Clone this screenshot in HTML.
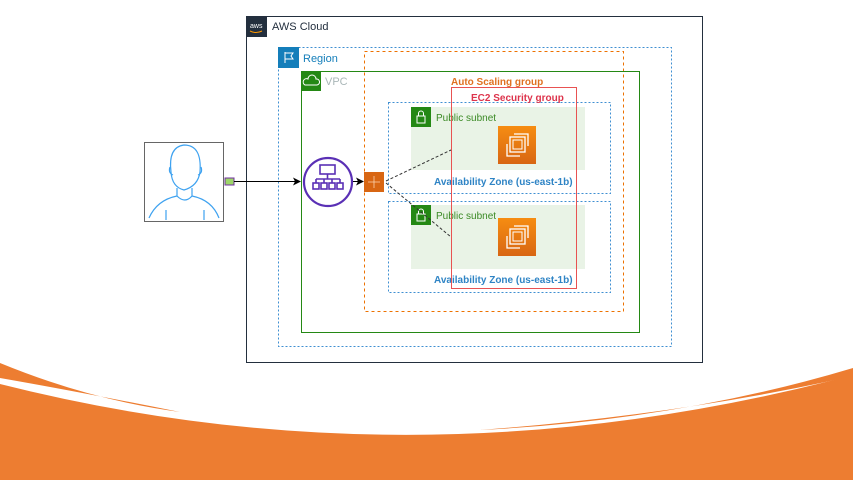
<!DOCTYPE html>
<html><head><meta charset="utf-8"><style>
html,body{margin:0;padding:0;background:#fff;}
svg{display:block;}
text{font-family:"Liberation Sans",sans-serif;}
</style></head><body>
<svg width="853" height="480" viewBox="0 0 853 480" xmlns="http://www.w3.org/2000/svg">
<defs>
<linearGradient id="og" x1="0" y1="0" x2="0" y2="1"><stop offset="0" stop-color="#f68d12"/><stop offset="1" stop-color="#d86613"/></linearGradient>
<marker id="ar" markerWidth="8" markerHeight="8" refX="7" refY="4" orient="auto" markerUnits="userSpaceOnUse"><path d="M0,0 L8,4 L0,8 L2,4z" fill="#000"/></marker>
<g id="ec2">
<rect width="38" height="38" fill="url(#og)"/>
<rect x="12" y="11" width="15" height="15" fill="none" stroke="#fff" stroke-width="1.3"/>
<rect x="15" y="14" width="9" height="9" fill="none" stroke="#fff" stroke-width="1"/>
<path d="M9,18 V30 H22 M16,8 H30 V20" fill="none" stroke="#fff" stroke-width="1.3"/>
</g>
<g id="lock"><rect width="20" height="20" fill="#248814"/><rect x="6" y="9" width="8" height="7" fill="none" stroke="#fff"/><path d="M7.5,9 V6.5 a2.5,2.5 0 0 1 5,0 V9" fill="none" stroke="#fff"/></g>
</defs>
<!-- bottom orange -->
<path d="M0,384 Q420,490 853,375 L853,480 L0,480 Z" fill="#ed7d31"/>
<path d="M0,363 Q90,400 180,412 Q80,392 0,378 Z" fill="#ed7d31"/>
<path d="M853,368 Q680,420 480,430 Q680,415 853,376 Z" fill="#ed7d31"/>

<!-- AWS cloud -->
<rect x="246.5" y="16.5" width="456" height="346" fill="#fff" stroke="#232f3e"/>
<rect x="246" y="16" width="21" height="21" fill="#232f3e"/>
<text x="250" y="28" font-size="7" fill="#fff">aws</text>
<path d="M250,31 q6,3 12,0" stroke="#f90" fill="none"/>
<text x="272" y="30" font-size="11" fill="#232f3e">AWS Cloud</text>

<!-- Region -->
<rect x="278.5" y="47.5" width="393" height="299" fill="none" stroke="#3f8fd2" stroke-dasharray="2,2"/>
<rect x="278" y="47" width="21" height="21" fill="#147eba"/>
<path d="M285,52 V63 M285,53 H293 L291,56 L293,59 H285" stroke="#fff" fill="none"/>
<text x="303" y="62" font-size="11" fill="#147eba">Region</text>

<!-- ASG -->
<rect x="364.5" y="51.5" width="259" height="260" fill="none" stroke="#ed7100" stroke-dasharray="3,3"/>

<!-- VPC -->
<rect x="301.5" y="71.5" width="338" height="261" fill="none" stroke="#248814"/>
<rect x="301" y="71" width="20" height="20" fill="#248814"/>
<path d="M305,85 h12 a3,3 0 0 0 -1,-6 a4,4 0 0 0 -8,0 a3,3 0 0 0 -3,6z" fill="none" stroke="#fff"/>
<text x="325" y="85" font-size="11" fill="#aab7b8">VPC</text>

<text x="451" y="85" font-size="10" font-weight="bold" fill="#e07020">Auto Scaling group</text>

<!-- AZ1 -->
<rect x="388.5" y="102.5" width="222" height="91" fill="none" stroke="#3f8fd2" stroke-dasharray="2,2"/>
<rect x="411" y="107" width="174" height="63" fill="#e9f3e6"/>
<use href="#lock" x="411" y="107"/>
<text x="436" y="121" font-size="10" fill="#3b8a25">Public subnet</text>
<use href="#ec2" x="498" y="126"/>
<text x="434" y="185" font-size="10" font-weight="bold" fill="#2f84c5">Availability Zone (us-east-1b)</text>

<!-- AZ2 -->
<rect x="388.5" y="201.5" width="222" height="91" fill="none" stroke="#3f8fd2" stroke-dasharray="2,2"/>
<rect x="411" y="205" width="174" height="64" fill="#e9f3e6"/>
<use href="#lock" x="411" y="205"/>
<text x="436" y="219" font-size="10" fill="#3b8a25">Public subnet</text>
<use href="#ec2" x="498" y="218"/>
<text x="434" y="283" font-size="10" font-weight="bold" fill="#2f84c5">Availability Zone (us-east-1b)</text>

<rect x="451.5" y="87.5" width="125" height="201" fill="none" stroke="#e85252"/>
<text x="471" y="101" font-size="10" font-weight="bold" fill="#dd344c">EC2 Security group</text>

<!-- person -->
<rect x="144.5" y="142.5" width="79" height="79" fill="#fff" stroke="#666"/>
<g fill="none" stroke="#3ea2f0" stroke-width="1.2">
<path d="M171,172 q-3,-25 13,-27 q18,0 16,27 q-2,14 -16,18 q-12,-3 -13,-18z"/>
<path d="M173,175 q-5,-2 -3,-8 M198,175 q5,-2 3,-8"/>
<path d="M177,188 v8 q-20,4 -28,22 M192,188 v8 q20,4 27,22 M177,196 q8,8 15,0 M166,210 v10 M204,210 v10"/>
</g>
<rect x="225" y="178" width="9" height="7" fill="#9ed66a" stroke="#7030a0"/>
<line x1="234" y1="181.5" x2="300" y2="181.5" stroke="#000" marker-end="url(#ar)"/>

<!-- ELB -->
<circle cx="328" cy="182" r="24" fill="#fff" stroke="#5a30b5" stroke-width="2.2"/>
<g fill="none" stroke="#5a30b5" stroke-width="1.6">
<rect x="320" y="165" width="15" height="9"/>
<path d="M327.5,174 v5 M316,179 h24 M316,179 v4 M324,179 v4 M332,179 v4 M340,179 v4"/>
<rect x="313" y="183" width="6" height="6"/><rect x="321" y="183" width="6" height="6"/><rect x="329" y="183" width="6" height="6"/><rect x="337" y="183" width="6" height="6"/>
</g>
<line x1="353" y1="181.5" x2="363" y2="181.5" stroke="#000" marker-end="url(#ar)"/>
<rect x="364" y="172" width="20" height="20" fill="#d86613"/>
<path d="M374,176 v12 M368,182 h12" stroke="#fbd2b0" stroke-width="0.8"/>
<line x1="386" y1="181" x2="451" y2="150" stroke="#333" stroke-dasharray="3,2"/>
<line x1="386" y1="183" x2="451" y2="237" stroke="#333" stroke-dasharray="3,2"/>
</svg>
</body></html>
